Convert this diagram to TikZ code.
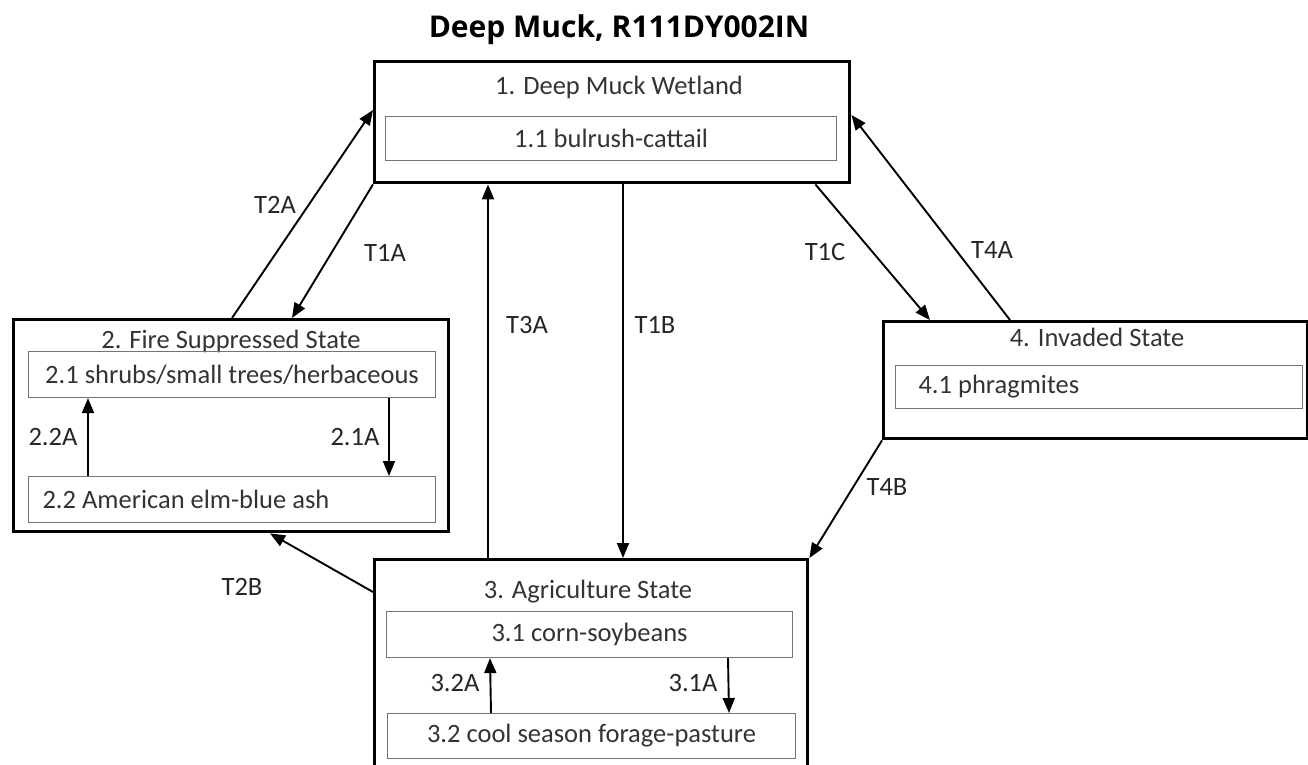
\documentclass[tikz,border=0pt]{standalone}
\usepackage{fontspec}
\setmainfont{Carlito}
\newfontfamily\headfont{Open Sans}
\usetikzlibrary{arrows.meta}

\begin{document}
\begin{tikzpicture}[x=1pt, y=-1pt,
    state/.style={draw, line width=3.4pt, anchor=north west, inner sep=0pt},
    phase/.style={draw=black!55, line width=1.1pt, anchor=north west, inner sep=0pt, text=black!80,
      font=\fontsize{26.5}{30}\selectfont},
    phaseleft/.style={phase, align=flush left, inner xsep=14pt},
    stitle/.style={text=black!80, font=\fontsize{26.5}{30}\selectfont},
    tlabel/.style={text=black!85, font=\fontsize{26.5}{30}\selectfont},
    arr/.style={line width=1.9pt, -{Triangle[length=15pt,width=12pt]}}]
  \useasboundingbox (0,0) rectangle (1308,765);
  \clip (0,0) rectangle (1308,765);

  % 1. title
  \node[font=\headfont\bfseries\fontsize{30}{34}\selectfont] (title) at (619,30) {Deep Muck, R111DY002IN};

  % 2. state boxes
  \node[state, minimum width=475pt, minimum height=121pt] (s1) at (373,60) {};
  \node[state, minimum width=435pt, minimum height=212pt] (s2) at (12,318) {};
  \node[state, minimum width=433pt, minimum height=240pt] (s3) at (373,558) {};
  \node[state, minimum width=424pt, minimum height=117pt] (s4) at (882,320) {};

  % 3. state names
  \node[stitle] (n1) at (619,87) {1. Deep Muck Wetland};
  \node[stitle] (n2) at (231,341) {2. Fire Suppressed State};
  \node[stitle] (n3) at (588,592) {3. Agriculture State};
  \node[stitle] (n4) at (1097,337) {4. Invaded State};

  % 4. community phases
  \node[phase, minimum width=451pt, minimum height=44pt] (p11) at (385,116) {1.1 bulrush-cattail};
  \node[phase, minimum width=407pt, minimum height=46pt] (p21) at (28,351) {2.1 shrubs/small trees/herbaceous};
  \node[phaseleft, text width=379pt, minimum height=46pt] (p22) at (28,476) {2.2 American elm-blue ash};
  \node[phase, minimum width=406pt, minimum height=46pt] (p31) at (386,611) {3.1 corn-soybeans};
  \node[phase, minimum width=408pt, minimum height=45pt] (p32) at (387,713) {3.2 cool season forage-pasture};
  \node[phaseleft, inner xsep=23pt, text width=361pt, minimum height=43pt] (p41) at (895,365) {4.1 phragmites};

  % 5. pathways inside the states
  \draw[arr] ([xshift=60pt]p22.north west) -- ([xshift=60pt]p21.south west);
  \draw[arr] ([xshift=361pt]p21.south west) -- ([xshift=361pt]p22.north west);
  \draw[arr] ([xshift=104pt]p32.north west) -- ([xshift=104pt]p31.south west);
  \draw[arr] ([xshift=342pt]p31.south west) -- ([xshift=342pt]p32.north west);
  \node[tlabel] (l22) at (53,437) {2.2A};
  \node[tlabel] (l21) at (355,437) {2.1A};
  \node[tlabel] (l32) at (455,683) {3.2A};
  \node[tlabel] (l31) at (693,683) {3.1A};

  % 6. transitions between the states
  \draw[arr] ([xshift=220pt]s2.north west) -- ([yshift=-50pt]s1.north west);
  \draw[arr] (s1.south west) -- ([xshift=280pt]s2.north west);
  \draw[arr] ([xshift=115pt]s3.north west) -- ([xshift=115pt]s1.south west);
  \draw[arr] ([xshift=250pt]s1.south west) -- ([xshift=250pt]s3.north west);
  \draw[arr] ([xshift=-36pt]s1.south east) -- ([xshift=48pt]s4.north west);
  \draw[arr] ([xshift=128pt]s4.north west) -- ([yshift=-55pt]s1.north east);
  \draw[arr] (s4.south west) -- (s3.north east);
  \draw[arr] ([yshift=-34pt]s3.north west) -- ([xshift=258pt]s2.south west);
  \node[tlabel] (t2a) at (275,205) {T2A};
  \node[tlabel] (t1a) at (385,253) {T1A};
  \node[tlabel] (t3a) at (527,325) {T3A};
  \node[tlabel] (t1b) at (655,325) {T1B};
  \node[tlabel] (t1c) at (825,252) {T1C};
  \node[tlabel] (t4a) at (992,250) {T4A};
  \node[tlabel] (t4b) at (887,487) {T4B};
  \node[tlabel] (t2b) at (242,587) {T2B};
\end{tikzpicture}
\end{document}
